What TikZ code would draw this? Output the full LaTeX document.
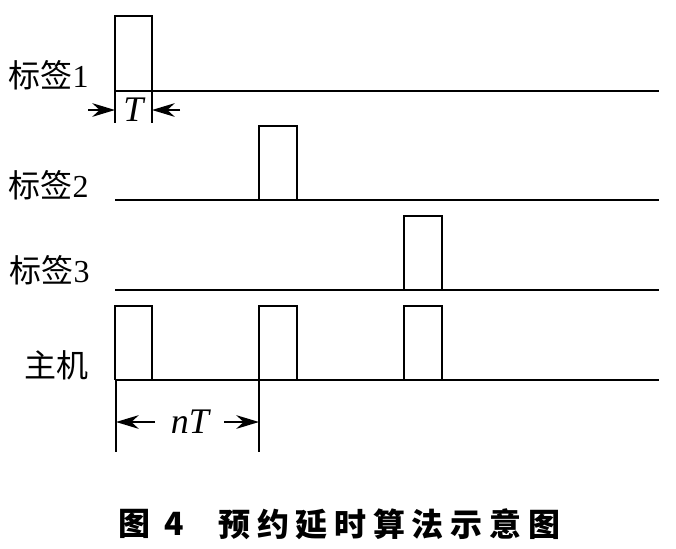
\documentclass[tikz,border=0pt]{standalone}
\usepackage{fontspec}
\setmainfont{Liberation Serif}
\newfontfamily\cjk{Noto Sans CJK SC}
\newfontfamily\capfont[LetterSpace=21]{Noto Sans CJK SC}
\usetikzlibrary{arrows.meta,positioning}
\tikzset{
  sig/.style={draw=black, line width=1.4pt, line join=miter},
  tickln/.style={draw=black, line width=0.8pt},
  dimarr/.style={-{Stealth[length=4mm,width=2.4mm]}, draw=black, line width=0.9pt},
  lbl/.style={font=\fontsize{16}{16}\selectfont, anchor=east, inner sep=0pt},
  dimtxt/.style={font=\fontsize{18}{18}\selectfont\itshape, inner sep=0pt},
  captxt/.style={font=\capfont\bfseries\fontsize{16}{16}\selectfont, anchor=west, inner sep=0pt},
}

\begin{document}
\begin{tikzpicture}[x=0.5pt,y=-0.5pt]
\useasboundingbox (0,0) rectangle (676,548);

% --- labels -------------------------------------------------------------
\node[lbl] (tag1) at (89,75) {{\cjk 标签}1};
\node[lbl] (tag2) at (89,185) {{\cjk 标签}2};
\node[lbl] (tag3) at (90,270) {{\cjk 标签}3};
\node[lbl] (host) at (89,365) {\cjk 主机};

% --- waveforms ----------------------------------------------------------
\draw[sig] (115,91) -- (115,16) -- (152,16) -- (152,91);
\draw[sig] (115,91) -- (659,91);

\draw[sig] (259,200) -- (259,126) -- (297,126) -- (297,200);
\draw[sig] (115,200) -- (659,200);

\draw[sig] (404,290) -- (404,216) -- (442,216) -- (442,290);
\draw[sig] (115,290) -- (659,290);

\draw[sig] (115,380) -- (115,306) -- (152,306) -- (152,380);
\draw[sig] (259,380) -- (259,306) -- (297,306) -- (297,380);
\draw[sig] (404,380) -- (404,306) -- (442,306) -- (442,380);
\draw[sig] (115,380) -- (659,380);

% --- pulse width T ------------------------------------------------------
\coordinate (Ta) at (115,110);
\coordinate (Tb) at (152,110);
\coordinate (Tl) at (88,110);
\coordinate (Tr) at (180,110);
\draw[tickln] (115,91) -- (115,123);
\draw[tickln] (152,91) -- (152,123);
\draw[dimarr] (Tl) -- (Ta);
\draw[dimarr] (Tr) -- (Tb);
\node[dimtxt] (T) at (133.5,110) {T};

% --- period nT ----------------------------------------------------------
\coordinate (na) at (116,422);
\coordinate (nb) at (259,422);
\coordinate (nl) at (155,422);
\coordinate (nr) at (224,422);
\draw[tickln] (116,380) -- (116,452);
\draw[tickln] (259,380) -- (259,452);
\draw[dimarr] (nl) -- (na);
\draw[dimarr] (nr) -- (nb);
\node[dimtxt] (nT) at (190,422) {nT};

% --- caption ------------------------------------------------------------
\node[captxt] (fig) at (118,524) {图 4};
\node[captxt] (title) at (218,524) {预约延时算法示意图};
\end{tikzpicture}
\end{document}
